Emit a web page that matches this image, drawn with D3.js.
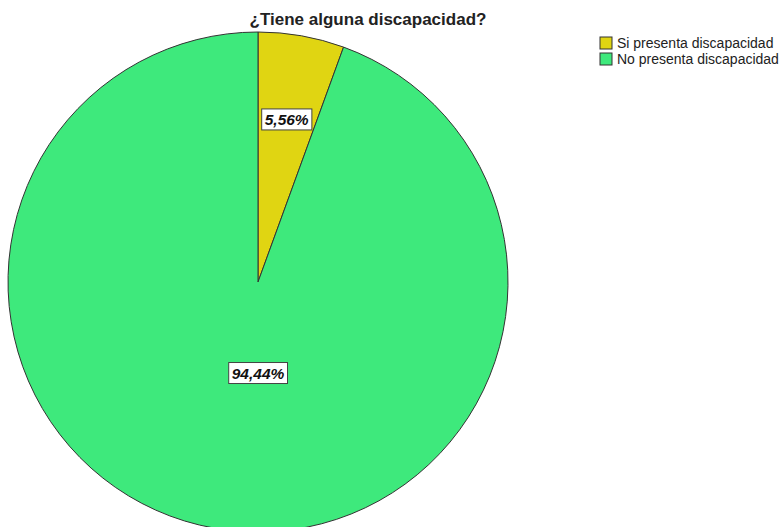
<!DOCTYPE html>
<html>
<head>
<meta charset="utf-8">
<script src="https://cdnjs.cloudflare.com/ajax/libs/d3/7.8.5/d3.min.js"></script>
<style>
  body { margin: 0; background: #fff; }
  text { font-family: "Liberation Sans", Arial, sans-serif; }
</style>
</head>
<body>
<script>
// data
var categories = ['Si presenta discapacidad', 'No presenta discapacidad']
var values = [5.56, 94.44]
var labels = ['5,56%', '94,44%']
var colors = ['#e0d512', '#3ee97c']

var width = 783, height = 527
var cx = 258, cy = 282, R = 250

var svg = d3.select('body').append('svg')
  .attr('width', width)
  .attr('height', height)

svg.append('text')
  .attr('x', 368)
  .attr('y', 25)
  .attr('text-anchor', 'middle')
  .style('font-size', '17px')
  .style('font-weight', 'bold')
  .attr('fill', '#222')
  .text('¿Tiene alguna discapacidad?')

var pie = d3.pie().sort(null).value(function(d){ return d })
var arcs = pie(values)
var arc = d3.arc().innerRadius(0).outerRadius(R)

var g = svg.append('g').attr('transform', 'translate(' + cx + ',' + cy + ')')

g.selectAll('path')
  .data(arcs)
  .enter()
  .append('path')
  .attr('d', arc)
  .attr('fill', function(d, i){ return colors[i] })
  .attr('stroke', '#333')
  .attr('stroke-width', 1)

// label radius differs a bit per slice, like in the original
var labelArcs = [d3.arc().innerRadius(R * 0.66).outerRadius(R * 0.66),
                 d3.arc().innerRadius(R * 0.37).outerRadius(R * 0.37)]

var lab = g.selectAll('g.lab')
  .data(arcs)
  .enter()
  .append('g')
  .attr('class', 'lab')
  .attr('transform', function(d, i){
    var c = labelArcs[i].centroid(d)
    if (i == 1) c[0] = 0
    return 'translate(' + c[0] + ',' + c[1] + ')'
  })

lab.each(function(d, i){
  var el = d3.select(this)
  var t = el.append('text')
    .attr('text-anchor', 'middle')
    .attr('dy', '0.35em')
    .style('font-size', '15.5px')
    .style('font-weight', 'bold')
    .style('font-style', 'italic')
    .attr('fill', '#111')
    .text(labels[i])
  var bb = t.node().getBBox()
  el.insert('rect', 'text')
    .attr('x', bb.x - 3)
    .attr('y', bb.y - 2)
    .attr('width', bb.width + 6)
    .attr('height', bb.height + 4)
    .attr('fill', '#fff')
    .attr('stroke', '#444')
    .attr('stroke-width', 1)
})

var legend = svg.append('g').attr('transform', 'translate(600,37)')
var item = legend.selectAll('g')
  .data(categories)
  .enter()
  .append('g')
  .attr('transform', function(d, i){ return 'translate(0,' + i * 16 + ')' })

item.append('rect')
  .attr('width', 12)
  .attr('height', 12)
  .attr('fill', function(d, i){ return colors[i] })
  .attr('stroke', '#333')

item.append('text')
  .attr('x', 17)
  .attr('y', 11)
  .style('font-size', '14px')
  .attr('fill', '#222')
  .text(function(d){ return d })
</script>
</body>
</html>
